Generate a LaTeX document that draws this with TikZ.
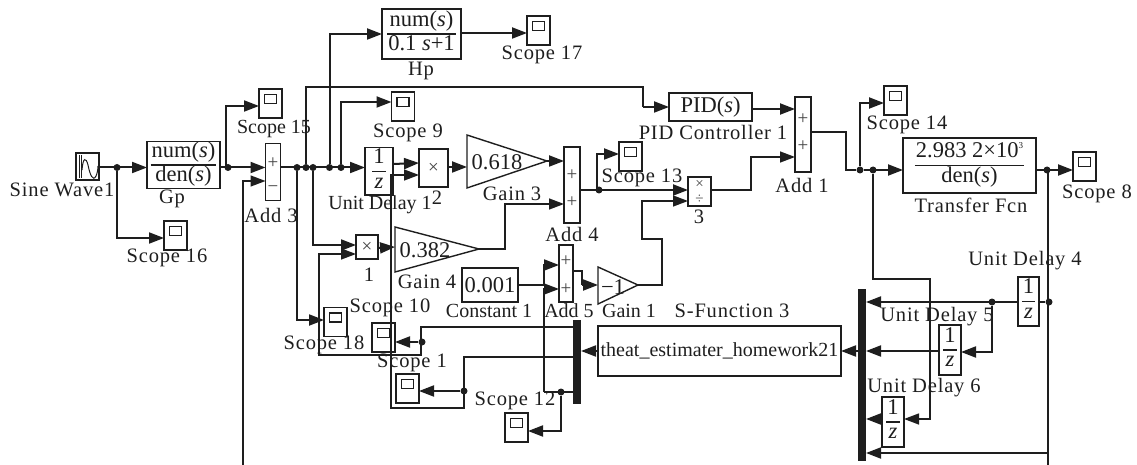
\documentclass[tikz,border=0pt]{standalone}
\usepackage{fontspec}
\setmainfont{Liberation Serif}
\newfontface\labfont[LetterSpace=4]{Liberation Serif}
\usetikzlibrary{arrows.meta}
\definecolor{ink}{HTML}{1E1E1E}
\definecolor{sym}{HTML}{444444}
\newcommand{\fr}[2]{{\setlength{\arrayrulewidth}{1.4pt}\begin{tabular}{@{\hspace{1pt}}c@{\hspace{1pt}}}#1\\\hline #2\end{tabular}}}
\newcommand{\its}{\textit{s}}
\tikzset{
  x=1pt,y=-1pt,
  blk/.style={draw=ink,line width=1.4pt,inner sep=0pt,outer sep=0pt,font=\fontsize{22.5}{23}\selectfont,text=ink},
  scopebox/.style={draw=ink,line width=1.4pt,inner sep=0pt,outer sep=0pt,minimum width=23pt,minimum height=29pt,
    path picture={\draw[ink,line width=1.2pt] ([xshift=-6pt,yshift=9pt]path picture bounding box.center) rectangle ([xshift=6pt,yshift=0pt]path picture bounding box.center);}},
  lbl/.style={inner sep=0pt,outer sep=0pt,text=ink,font=\fontsize{20.5}{24}\selectfont\labfont},
  lbn/.style={inner sep=0pt,outer sep=0pt,text=ink,font=\fontsize{20}{24}\selectfont},
  symb/.style={inner sep=0pt,outer sep=0pt,text=sym,font=\fontsize{19}{20}\selectfont},
  symc/.style={inner sep=0pt,outer sep=0pt,text=sym,font=\fontsize{15}{15}\selectfont},
  wire/.style={draw=ink,line width=1.4pt},
  arr/.style={draw=ink,line width=2pt,-{Triangle[length=15pt,width=11pt]}},
  tarr/.style={draw=ink,line width=1.4pt,-{Triangle[length=15pt,width=11pt]}},
  dot/.style={circle,fill=ink,inner sep=0pt,minimum size=7pt},
  tri/.style={draw=ink,line width=1.4pt,line join=miter},
  bar/.style={fill=ink,inner sep=0pt,outer sep=0pt,minimum width=8pt}
}
\begin{document}
\begin{tikzpicture}
\useasboundingbox (0,0) rectangle (1137,465);
% blocks
\node[blk,minimum width=23pt,minimum height=27pt] (sine) at (87.5,166.5) {};
\draw[ink,line width=1pt] (79,155) -- (79,178) (81,155) -- (81,178);
\draw[ink,line width=1pt] (82,170) .. controls (83,157) and (86,157) .. (88,165) .. controls (90,175) and (93,182) .. (96,176) .. controls (97,174) and (98,170) .. (98,166);
\node[blk,minimum width=73pt,minimum height=46pt] (gp) at (183.5,165) {\fr{num(\its)}{den(\its)}};
\node[blk,minimum width=15pt,minimum height=57pt] (add3) at (273,172) {};
\node[symb] (add3p) at (273,163) {+};
\node[symb] (add3m) at (273,189) {−};
\node[blk,minimum width=28pt,minimum height=37pt] (ud1) at (379,171.5) {\fr{1}{\textit{z}}};
\node[blk,minimum width=79pt,minimum height=50pt] (hp) at (421.5,34) {\fr{num(\its)}{0.1 \its+1}};
\node[blk,minimum width=83pt,minimum height=28pt] (pid) at (710.5,107) {PID(\its)};
\node[blk,minimum width=29pt,minimum height=38pt] (prod2) at (433.5,168) {};
\node[symb] (prod2s) at (433.5,168) {×};
\node[blk,minimum width=22pt,minimum height=24pt] (prod1) at (367,247) {};
\node[symb] (prod1s) at (367,247) {×};
\node[blk,minimum width=23pt,minimum height=29pt] (prod3) at (699.5,191.5) {};
\node[symc] (prod3a) at (699.5,184) {×};
\node[symc] (prod3b) at (699.5,199) {÷};
\node[blk,minimum width=16pt,minimum height=76pt] (add4) at (572,185) {};
\node[symb] (add4a) at (572,175) {+};
\node[symb] (add4b) at (572,202) {+};
\node[blk,minimum width=14pt,minimum height=57pt] (add5) at (566,273.5) {};
\node[symb] (add5a) at (566,261) {+};
\node[symb] (add5b) at (566,289) {+};
\node[blk,minimum width=16pt,minimum height=75pt] (add1) at (803,134.5) {};
\node[symb] (add1a) at (803,119) {+};
\node[symb] (add1b) at (803,146) {+};
\node[blk,minimum width=56pt,minimum height=34pt] (const) at (490,285) {0.001};
\node[blk,minimum width=133pt,minimum height=55pt] (tf) at (969.5,165.5) {\fr{2.983 2×10\raisebox{9pt}{\fontsize{9}{9}\selectfont 3}}{den(\its)}};
\node[blk,minimum width=243pt,minimum height=50pt,font=\fontsize{20}{24}\selectfont] (sfun) at (719.5,351) {theat\_estimater\_homework21};
\node[blk,minimum width=21pt,minimum height=49pt] (ud4) at (1028.5,301.5) {\fr{1}{\textit{z}}};
\node[blk,minimum width=22pt,minimum height=50pt] (ud5) at (950,350) {\fr{1}{\textit{z}}};
\node[blk,minimum width=22pt,minimum height=50pt] (ud6) at (893,422) {\fr{1}{\textit{z}}};
\node[bar,minimum height=84pt] (mux1) at (577,362) {};
\node[bar,minimum height=172pt] (mux2) at (862,375) {};
% gains
\draw[tri] (467,135) -- (547,161) -- (467,188) -- cycle;
\draw[tri] (395,227) -- (479,249) -- (395,272) -- cycle;
\draw[tri] (598,267) -- (638,285) -- (598,304) -- cycle;
\coordinate (g3i) at (467,167);
\coordinate (g3o) at (547,161);
\coordinate (g4i) at (395,247);
\coordinate (g4o) at (479,249);
\coordinate (g1i) at (598,285);
\coordinate (g1o) at (638,285);
\node[blk,draw=none] (g3t) at (497,162) {0.618};
\node[blk,draw=none] (g4t) at (425,250) {0.382};
\node[blk,draw=none] (g1t) at (613,287) {−1};
% scopes
\node[scopebox] (s15) at (270.5,103.5) {};
\node[scopebox] (s16) at (175.5,235.5) {};
\node[scopebox] (s17) at (538.5,30.5) {};
\node[scopebox] (s9) at (403,106.5) {};
\node[scopebox] (s13) at (630.5,156.5) {};
\node[scopebox] (s14) at (895.5,100.5) {};
\node[scopebox] (s8) at (1084.5,166.5) {};
\node[scopebox] (s18) at (335.5,322) {};
\node[scopebox] (s10) at (383.5,337.5) {};
\node[scopebox] (s1) at (407.5,388.5) {};
\node[scopebox] (s12) at (516.5,427.5) {};
% junctions
\node[dot] (j1) at (117,167.5) {};
\node[dot] (j2) at (228,167.5) {};
\node[dot] (j3) at (297,167.5) {};
\node[dot] (j4) at (306,167.5) {};
\node[dot] (j5) at (313,167.5) {};
\node[dot] (j6) at (329.5,167.5) {};
\node[dot] (j7) at (341,167.5) {};
\node[dot] (j8) at (599,190) {};
\node[dot] (j9) at (860,170) {};
\node[dot] (j10) at (873,170) {};
\node[dot] (j11) at (1047,170) {};
\node[dot] (j12) at (1049,302) {};
\node[dot] (j13) at (992,302) {};
\node[dot] (j14) at (422,342) {};
\node[dot] (j15) at (464,391) {};
\node[dot] (j16) at (561,392) {};
% free ends
\coordinate (b1) at (243,465);
\coordinate (b2) at (1048,465);
% wires
\draw[arr] (sine.east |- j1) -- (gp.west |- j1);
\draw[arr] (j1) |- ([yshift=-2.5pt]s16.west);
\draw[arr] (gp.east |- j2) -- (add3.west |- j2);
\draw[arr] ([xshift=-2pt]j2.center) |- ([yshift=-2.5pt]s15.west);
\draw[tarr] (b1) |- ([yshift=-9pt]add3.west);
\draw[arr] (add3.east |- j3) -- (ud1.west |- j3);
\draw[arr] (j3) |- ([yshift=2pt]s18.west);
\draw[wire] (j4) |- (643,87) -- (643,107);
\draw[arr] (643,107) -- (pid.west);
\draw[arr] (j5) |- ([yshift=2pt]prod1.west);
\draw[arr] (j6) |- (hp.west);
\draw[arr] (j7) |- ([yshift=4.5pt]s9.west);
\draw[arr] ([yshift=1pt]hp.east) -- ([yshift=-2.5pt]s17.west);
\draw[arr] ([yshift=7.5pt]ud1.east) -- ([yshift=5pt]prod2.west);
\draw[tarr] (mux1.west |- 0,357) -| (464,408) -- (391,408) |- ([yshift=-7pt]prod2.west);
\draw[arr] (j15) -- ([yshift=-2.5pt]s1.east);
\draw[tarr] (mux1.west |- 0,327) -| (421,355) -- (319,355) |- ([yshift=-7pt]prod1.west);
\draw[arr] (j14) -- ([yshift=-4.5pt]s10.east);
\draw[wire] (mux1.west |- j16) -- (544,392);
\draw[tarr] (544,392) |- ([yshift=-15.5pt]add5.west);
\draw[arr] (j16) |- ([yshift=-3.5pt]s12.east);
\draw[wire] (const.east) -- (544,285) |- (548,265);
\draw[arr] (544,265) -- ([yshift=8.5pt]add5.west);
\draw[wire] ([yshift=2.5pt]add5.east) -| (582,285);
\draw[arr] (582,285) -- (g1i);
\draw[tarr] (g1o) -| (662,239) -| (642,201) -- ([yshift=-9.5pt]prod3.west);
\draw[arr] ([yshift=-1pt]prod1.east) -- (g4i);
\draw[arr] ([yshift=1pt]prod2.east) -- (g3i);
\draw[arr] (g3o) -- ([yshift=24pt]add4.west);
\draw[tarr] (g4o) -| (505,204) -- ([yshift=-19pt]add4.west);
\draw[arr] (add4.east |- j8) -- (prod3.west |- j8);
\draw[arr] ([xshift=-2pt]j8.center) |- ([yshift=2.5pt]s13.west);
\draw[tarr] (prod3.east |- j8) -| (751,157) -- ([yshift=-22.5pt]add1.west);
\draw[arr] (pid.east |- 0,109) -- ([yshift=25.5pt]add1.west);
\draw[wire] ([yshift=2.5pt]add1.east) -| (846,170) -- (j9);
\draw[arr] (j9) |- ([yshift=-2.5pt]s14.west);
\draw[arr] (j9) -- (tf.west |- j9);
\draw[tarr] (j10) |- (930,279) |- ([yshift=3pt]ud6.east);
\draw[arr] (tf.east |- j11) -- ([yshift=-3.5pt]s8.west);
\draw[wire] ([xshift=1pt]j11.center) -- (b2);
\draw[wire] (j12) -- (ud4.east |- j12);
\draw[arr] (ud4.west |- j12) -- (mux2.east |- j12);
\draw[arr] (j13) |- ([yshift=-2pt]ud5.east);
\draw[arr] ([yshift=-1pt]ud5.west) -- (mux2.east |- 0,351);
\draw[arr] ([yshift=3pt]ud6.west) -- (mux2.east |- 0,419);
\draw[arr] (1048,453) -- (mux2.east |- 0,453);
\draw[arr] (mux2.west |- sfun.east) -- (sfun.east);
\draw[arr] (sfun.west) -- (mux1.east |- sfun.west);
% labels
\node[lbl] (ls1) at (62,190) {Sine Wave1};
\node[lbl] (lgp) at (172,199) {Gp};
\node[lbn] (ls15) at (274,129) {Scope 15};
\node[lbl] (la3) at (271,215) {Add 3};
\node[lbl] (ls16) at (167,258) {Scope 16};
\node[lbl] (lhp) at (421,71) {Hp};
\node[lbl] (ls17) at (542,55) {Scope 17};
\node[lbl] (ls9) at (408,133) {Scope 9};
\node[lbn] (lu1) at (380,205) {Unit Delay 1};
\node[lbl] (l2) at (437,198) {2};
\node[lbl] (lg3) at (512,194) {Gain 3};
\node[lbl] (lg4) at (427,282) {Gain 4};
\node[lbl] (l1) at (369,275) {1};
\node[lbn] (lc1) at (489,311) {Constant 1};
\node[lbn] (la5) at (569,311) {Add 5};
\node[lbn] (lg1) at (629,311) {Gain 1};
\node[lbl] (lsf) at (732,311) {S-Function 3};
\node[lbl] (la4) at (572,234) {Add 4};
\node[lbl] (l3) at (699,217) {3};
\node[lbl] (lpid) at (713,132) {PID Controller 1};
\node[lbl] (la1) at (802,185) {Add 1};
\node[lbl] (ltf) at (971,205) {Transfer Fcn};
\node[lbl] (ls14) at (907,125) {Scope 14};
\node[lbl] (ls8) at (1097,194) {Scope 8};
\node[lbl] (ls13) at (642,178) {Scope 13};
\node[lbl] (lu4) at (1025,261) {Unit Delay 4};
\node[lbl] (lu5) at (937,317) {Unit Delay 5};
\node[lbl] (lu6) at (924,388) {Unit Delay 6};
\node[lbl] (ls18) at (324,345) {Scope 18};
\node[lbl] (ls10) at (390,308) {Scope 10};
\node[lbl] (ls1b) at (412,363) {Scope 1};
\node[lbl] (ls12) at (515,401) {Scope 12};
\end{tikzpicture}
\end{document}
